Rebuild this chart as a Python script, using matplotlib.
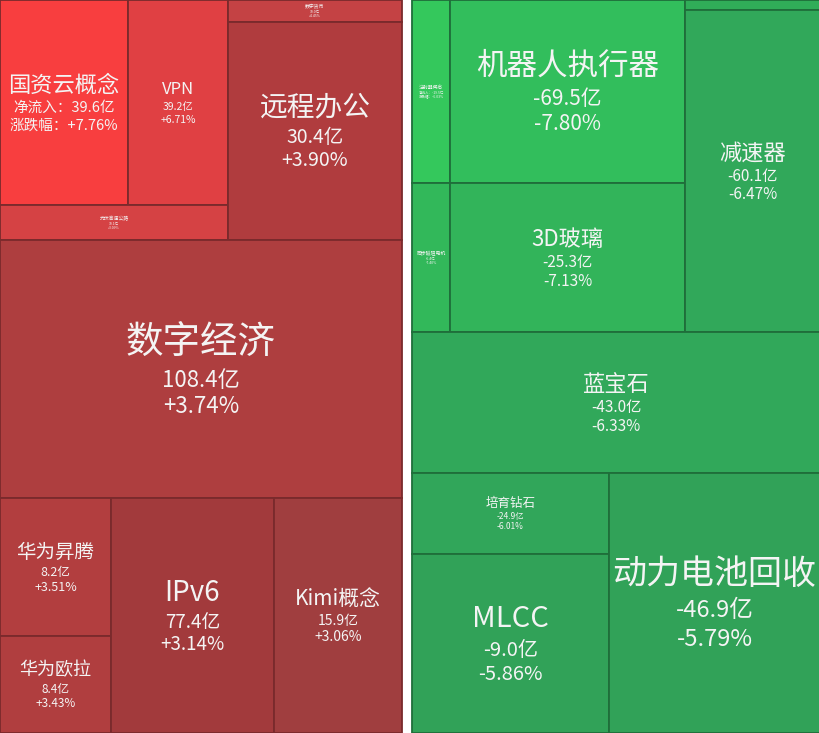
import matplotlib
matplotlib.use("Agg")
import matplotlib.pyplot as plt
from matplotlib.patches import Rectangle

plt.rcParams['font.family'] = ['Noto Sans CJK SC', 'DejaVu Sans']

# sector data: name, net flow (亿), change (%)
red_names = ["国资云概念", "VPN", "光伏高速公路", "数字货币", "远程办公", "数字经济",
             "华为昇腾", "华为欧拉", "IPv6", "Kimi概念"]
red_flows = [39.6, 39.2, 10.1, 10.0, 30.4, 108.4, 8.2, 8.4, 77.4, 15.9]
red_pcts = [7.76, 6.71, 3.09, 4.45, 3.90, 3.74, 3.51, 3.43, 3.14, 3.06]

green_names = ["注射器概念", "同步磁阻电机", "机器人执行器", "3D玻璃", "", "减速器",
               "蓝宝石", "培育钻石", "MLCC", "动力电池回收"]
green_flows = [-19.5, -6.4, -69.5, -25.3, -5.0, -60.1, -43.0, -24.9, -9.0, -46.9]
green_pcts = [-6.03, -7.40, -7.80, -7.13, -6.00, -6.47, -6.33, -6.01, -5.86, -5.79]

# layout of tiles in screen pixels (x0, y0, x1, y1)
red_boxes = [(0, 0, 128, 205), (128, 0, 228, 205), (0, 205, 228, 240),
             (228, 0, 402, 22), (228, 22, 402, 240), (0, 240, 402, 498),
             (0, 498, 111, 636), (0, 636, 111, 733), (111, 498, 274, 733),
             (274, 498, 402, 733)]
green_boxes = [(412, 0, 450, 183), (412, 183, 450, 332), (450, 0, 685, 183),
               (450, 183, 685, 332), (685, 0, 820, 10), (685, 10, 820, 332),
               (412, 332, 820, 473), (412, 473, 609, 554), (412, 554, 609, 733),
               (609, 473, 820, 733)]

red_colors = ["#f83e3f", "#e04043", "#d54244", "#c44244", "#b03c3e", "#ae3e3f",
              "#b23e3f", "#b03e3f", "#a23a3c", "#a03e3f"]
green_colors = ["#34c85c", "#32b85a", "#32be5c", "#32b45a", "#30ad58", "#31a85a",
                "#31a85a", "#31a65a", "#31a258", "#31a258"]

# title / sub font sizes per tile
red_sizes = [(16, 10.5), (12, 7.5), (3.5, 2.5), (3.5, 2.5), (20, 14), (27, 16),
             (14, 9), (13, 8.5), (20, 13.5), (15, 10)]
green_sizes = [(3.5, 2.5), (3.5, 2.5), (22, 15), (16, 11), (1, 1), (16, 11),
               (16, 11), (9, 6), (21, 14.5), (24.5, 17)]
detail = {"国资云概念", "注射器概念"}

fig = plt.figure(figsize=(8.2, 7.33), dpi=100)
ax = fig.add_axes([0, 0, 1, 1])
ax.set_xlim(0, 820)
ax.set_ylim(733, 0)
ax.axis('off')


def draw(names, flows, pcts, boxes, colors, sizes, edge):
    for name, v, p, b, c, (T, S) in zip(names, flows, pcts, boxes, colors, sizes):
        x0, y0, x1, y1 = b
        ax.add_patch(Rectangle((x0, y0), x1 - x0, y1 - y0, facecolor=c,
                               edgecolor=edge, linewidth=1.3))
        if not name:
            continue
        cx, cy = (x0 + x1) / 2, (y0 + y1) / 2
        if name in detail:
            l2 = f"净流入：{v:.1f}亿"
            l3 = f"涨跌幅：{p:+.2f}%"
        else:
            l2 = f"{v:.1f}亿"
            l3 = f"{p:+.2f}%"
        h1, h2 = T * 1.3, S * 1.2
        H = h1 + 2 * h2
        offs = [H / 2 - h1 / 2, H / 2 - h1 - h2 / 2, H / 2 - h1 - 1.5 * h2]
        for txt, fs, off in zip([name, l2, l3], [T, S, S], offs):
            ax.annotate(txt, (cx, cy), xytext=(0, off), textcoords='offset points',
                        ha='center', va='center', fontsize=fs, color='#f4f4f4',
                        annotation_clip=False)


draw(red_names, red_flows, red_pcts, red_boxes, red_colors, red_sizes, "#7a2a2c")
draw(green_names, green_flows, green_pcts, green_boxes, green_colors, green_sizes, "#1f6e3a")

fig.savefig("out.png", dpi=100)
